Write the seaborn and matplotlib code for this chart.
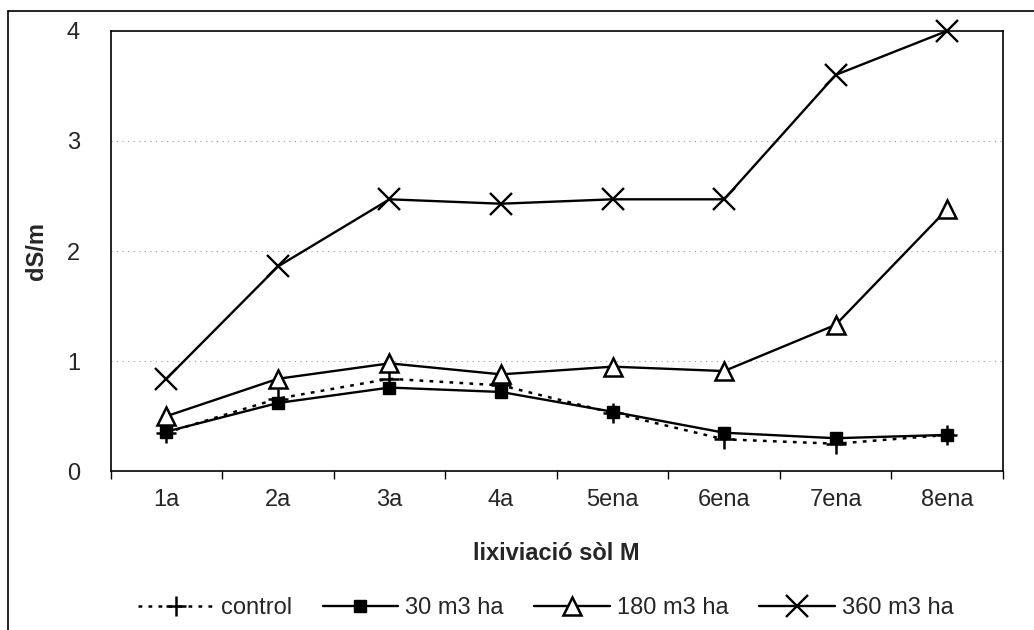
import matplotlib
matplotlib.use("Agg")
import matplotlib.pyplot as plt
from matplotlib.lines import Line2D
import numpy as np
import pandas as pd
import seaborn as sns

# Leaching rounds and electrical conductivity (dS/m) per treatment
rounds = ["1a", "2a", "3a", "4a", "5ena", "6ena", "7ena", "8ena"]
control = [0.35, 0.66, 0.84, 0.78, 0.53, 0.29, 0.25, 0.33]
dose_30 = [0.36, 0.62, 0.76, 0.72, 0.54, 0.35, 0.30, 0.33]
dose_180 = [0.50, 0.84, 0.98, 0.88, 0.95, 0.91, 1.33, 2.38]
dose_360 = [0.84, 1.86, 2.47, 2.43, 2.47, 2.47, 3.60, 4.00]
series_names = ["control", "30 m3 ha", "180 m3 ha", "360 m3 ha"]
y_ticks = [0, 1, 2, 3, 4]

sns.set_theme(style="white")
plt.rcParams["font.family"] = ["Liberation Sans", "DejaVu Sans"]

fig = plt.figure(figsize=(10.34, 6.3), dpi=100)
ax = fig.add_axes([0.107, 0.252, 0.863, 0.699])

df = pd.DataFrame({"ronda": rounds, "control": control, "d30": dose_30,
                   "d180": dose_180, "d360": dose_360})

styles = [
    ("control", dict(linestyle=(0, (1.5, 2.5)), marker="+", markersize=14,
                     markeredgewidth=1.8, markeredgecolor="black",
                     color="black", linewidth=1.8)),
    ("d30", dict(linestyle="-", marker="s", markersize=9, color="black",
                 markerfacecolor="black", markeredgecolor="black",
                 markeredgewidth=1.0, linewidth=1.7)),
    ("d180", dict(linestyle="-", marker="^", markersize=13, color="black",
                  markerfacecolor="white", markeredgecolor="black",
                  markeredgewidth=1.8, linewidth=1.7)),
    ("d360", dict(linestyle="-", marker="x", markersize=16, color="black",
                  markeredgecolor="black", markeredgewidth=1.7, linewidth=1.7)),
]

for col, kw in styles:
    sns.lineplot(data=df, x="ronda", y=col, ax=ax, sort=False, clip_on=False,
                 zorder=3, **kw)

ax.set_xlim(-0.5, 7.5)
ax.set_ylim(0, 4)
ax.set_yticks(y_ticks)
ax.set_yticklabels([str(v) for v in y_ticks], fontsize=17)
ax.set_xticks(range(len(rounds)))
ax.set_xticklabels(rounds, fontsize=17)
ax.set_xticks(np.arange(-0.5, len(rounds), 1.0), minor=True)
ax.tick_params(axis="x", which="major", length=0, pad=13)
ax.tick_params(axis="x", which="minor", length=6, width=1, color="black",
               direction="out", bottom=True)
ax.tick_params(axis="y", length=0, pad=22)

for g in [1, 2, 3]:
    ax.axhline(g, color="#999999", linewidth=0.8, linestyle=(0, (1, 4)), zorder=1)

for s in ax.spines.values():
    s.set_color("black")
    s.set_linewidth(1.2)

ax.set_xlabel("lixiviació sòl M", fontsize=17, fontweight="bold", labelpad=22)
ax.set_ylabel("dS/m", fontsize=17, fontweight="bold", labelpad=14)

handles = []
for (col, kw), name in zip(styles, series_names):
    handles.append(Line2D([], [], label=name, **kw))
fig.legend(handles=handles, loc="center", bbox_to_anchor=(0.528, 0.035),
           ncol=4, frameon=False, fontsize=17, handlelength=3.2,
           handletextpad=0.3, columnspacing=1.3)

# Page frame on the left and top edges
fig.add_artist(Line2D([8 / 1034, 8 / 1034], [0, 1 - 11 / 630],
                      transform=fig.transFigure, color="black", linewidth=1.2))
fig.add_artist(Line2D([8 / 1034, 1], [1 - 11 / 630, 1 - 11 / 630],
                      transform=fig.transFigure, color="black", linewidth=1.2))

fig.savefig("out.png", dpi=100)
